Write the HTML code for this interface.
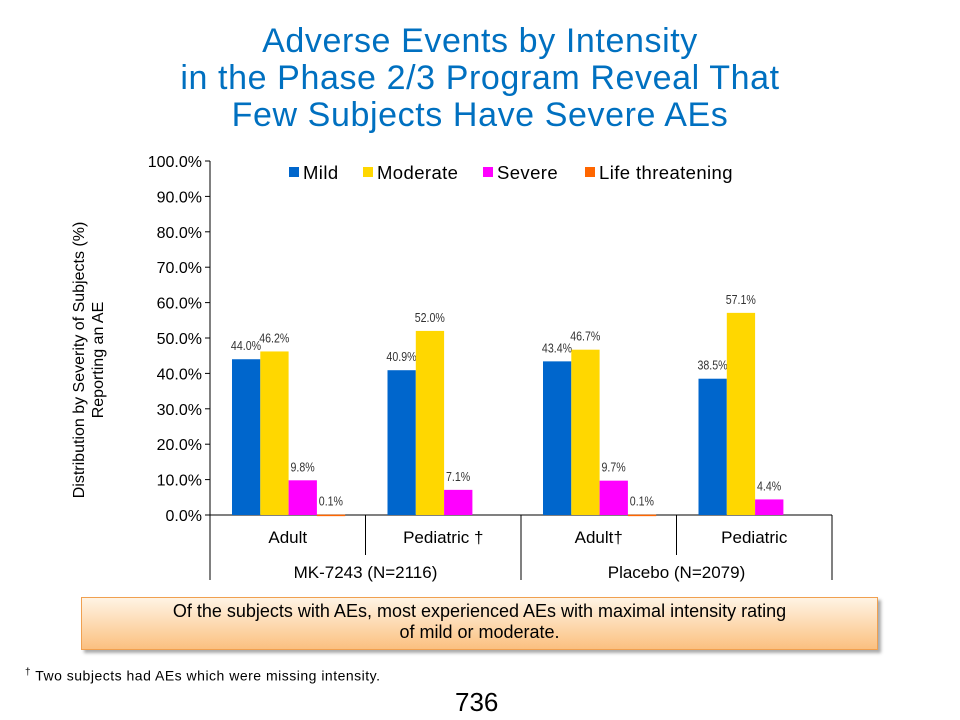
<!DOCTYPE html>
<html><head><meta charset="utf-8"><style>
body{margin:0;width:960px;height:720px;background:#fff;font-family:"Liberation Sans",sans-serif;position:relative;overflow:hidden}
.t{position:absolute;left:0;width:960px;text-align:center;color:#0070c0;font-size:34px;letter-spacing:0.6px;line-height:37px;top:23px}
.box{position:absolute;left:81px;top:597px;width:797px;height:53px;border:1px solid #f0a050;background:linear-gradient(#fff4e4,#fbc080);box-shadow:3px 3px 3px #aaa;text-align:center;font-size:18px;line-height:21px;padding-top:3px;box-sizing:border-box}
</style></head><body>
<div class="t">Adverse Events by Intensity<br>in the Phase 2/3 Program Reveal That<br>Few Subjects Have Severe AEs</div>
<svg id="c" width="960" height="720" style="position:absolute;left:0;top:0"></svg>
<div class="box">Of the subjects with AEs, most experienced AEs with maximal intensity rating<br>of mild or moderate.</div>
<div style="position:absolute;left:25px;top:667px;font-size:14px;letter-spacing:0.5px"><sup style="font-size:10px">†</sup> Two subjects had AEs which were missing intensity.</div>
<div style="position:absolute;left:455px;top:687px;font-size:26px">736</div>
<script>
const categories=["Adult","Pediatric †","Adult†","Pediatric"];
const groups=["MK-7243 (N=2116)","Placebo (N=2079)"];
const seriesNames=["Mild","Moderate","Severe","Life threatening"];
const mild=[44.0,40.9,43.4,38.5];
const moderate=[46.2,52.0,46.7,57.1];
const severe=[9.8,7.1,9.7,4.4];
const life=[0.1,0,0.1,0];
const yTicks=[0,10,20,30,40,50,60,70,80,90,100];
const colors=["#0066cc","#ffd700","#ff00ff","#ff6600"];
const svg=document.getElementById('c');
const NS="http://www.w3.org/2000/svg";
const x0=210,x1=832,y0=515,y1=161;
const gw=(x1-x0)/categories.length;
const y=v=>y0-(v/100)*(y0-y1);
function el(t,a,txt){const e=document.createElementNS(NS,t);for(const k in a)e.setAttribute(k,a[k]);if(txt!==undefined)e.textContent=txt;svg.appendChild(e);return e;}
const ax=el('line',{x1:x0,y1:y1,x2:x0,y2:580,stroke:'#000'});

const xa=el('line',{x1:x0-5,y1:y0,x2:x1,y2:y0,stroke:'#000'});

yTicks.forEach(v=>{
 const tk=el('line',{x1:x0-5,y1:y(v),x2:x0,y2:y(v),stroke:'#000'});
 
 const l=el('text',{x:x0-8,y:y(v)+6,'text-anchor':'end','font-size':16},v.toFixed(1)+'%');
 
});
const series=[mild,moderate,severe,life];
categories.forEach((c,i)=>{
 const gx=x0+i*gw;
 const sep=el('line',{x1:gx+gw,y1:y0,x2:gx+gw,y2:(i%2==1)?580:555,stroke:'#000'});
 
 const cl=el('text',{x:gx+gw/2,y:543,'text-anchor':'middle','font-size':17},c);
 
 series.forEach((s,j)=>{
  const v=s[i]; if(!v)return;
  const bx=gx+22+j*28.3;
  const r=el('rect',{x:bx,y:y(v),width:28.3,height:Math.max(y0-y(v),1.5),fill:colors[j]});
  
  const t=el('text',{x:bx+14,y:y(v)-9,'text-anchor':'middle','font-size':12.5,fill:'#333',transform:`translate(${bx+14},0) scale(0.85,1) translate(${-(bx+14)},0)`},v.toFixed(1)+'%');
  
 });
});
groups.forEach((g,i)=>{
 const gl=el('text',{x:x0+gw*(2*i+1),y:578,'text-anchor':'middle','font-size':17},g);
 
});
const lx=[289,363,483,585];
seriesNames.forEach((n,j)=>{
 const r=el('rect',{x:lx[j],y:167,width:10,height:10,fill:colors[j]});
 
 const t=el('text',{x:lx[j]+14,y:179,'font-size':18.5,'letter-spacing':0.4},n);
 
});
const yt=el('text',{transform:'translate(84,360) rotate(-90)','text-anchor':'middle','font-size':16},'');

const s1=document.createElementNS(NS,'tspan');s1.setAttribute('x',0);s1.setAttribute('y',0);s1.textContent='Distribution by Severity of Subjects (%)';yt.appendChild(s1);
const s2=document.createElementNS(NS,'tspan');s2.setAttribute('x',0);s2.setAttribute('y',19);s2.textContent='Reporting an AE';yt.appendChild(s2);
</script>
</body></html>
